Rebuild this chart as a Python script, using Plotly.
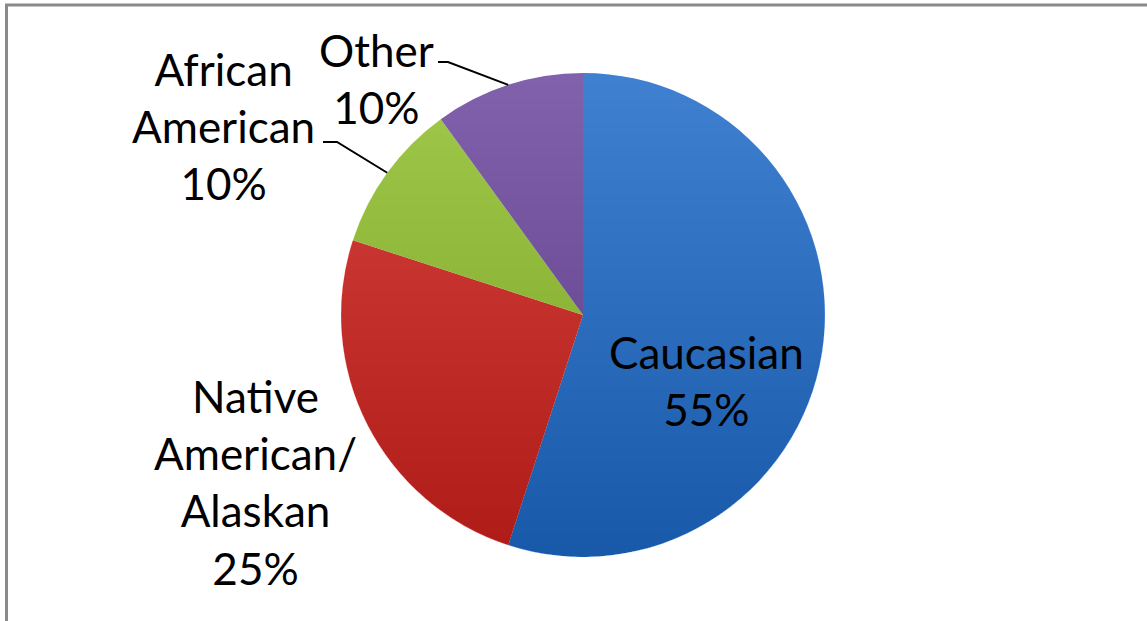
import numpy as np
import plotly.graph_objects as go

# ---- data ----
labels = ["Caucasian", "Native<br>American/<br>Alaskan", "African<br>American", "Other"]
values = [55, 25, 10, 10]
colors = ["#4080D0", "#D6433F", "#A0C94C", "#8161AB"]

W, H = 1147, 621
cx, cy, r = 583, 315, 242  # pie geometry in pixels


def px(x):
    return x / W


def py(y):
    return 1 - y / H


def P(x, y):
    return f"{px(x):.5f},{py(y):.5f}"


fig = go.Figure()
fig.add_trace(go.Pie(
    labels=[l.replace("<br>", " ") for l in labels],
    values=values,
    sort=False,
    direction="clockwise",
    rotation=0,
    marker=dict(colors=colors, line=dict(width=0)),
    textinfo="none",
    hoverinfo="label+percent",
    showlegend=False,
    domain=dict(x=[px(cx - r), px(cx + r)], y=[py(cy + r), py(cy - r)]),
))

shapes = []
# vertical gradient overlay (darker toward bottom), stacked translucent circle segments
N = 40
alpha = 1 - (0.80) ** (1 / N)
for k in range(1, N):
    yk = cy - r + 2 * r * k / N
    t0 = np.arcsin((yk - cy) / r)
    ts = np.linspace(t0, np.pi - t0, 90)
    pts = [P(cx + r * np.cos(t), cy + r * np.sin(t)) for t in ts]
    path = "M" + " L".join(pts) + " Z"
    shapes.append(dict(type="path", xref="paper", yref="paper", path=path,
                       fillcolor="#303030", opacity=alpha, line=dict(width=0), layer="above"))

# leader lines to mid-angle of small slices
total = sum(values)
cum = np.cumsum([0] + values[:-1])
mid_theta = [2 * np.pi * (c + v / 2) / total for c, v in zip(cum, values)]


def edge(i):
    t = mid_theta[i]
    return cx + r * np.sin(t), cy - r * np.cos(t)


leader_starts = {3: [(438, 62), (448, 62)], 2: [(323, 142), (337, 142)]}
for i, pts in leader_starts.items():
    (x0, y0), (x1, y1) = pts
    ex, ey = edge(i)
    path = "M" + P(x0, y0) + " L" + P(x1, y1) + " L" + P(ex, ey)
    shapes.append(dict(type="path", xref="paper", yref="paper", path=path,
                       line=dict(color="black", width=2)))

# chart border
shapes.append(dict(type="rect", xref="paper", yref="paper",
                   x0=px(6.5), y0=py(1200), x1=px(2000), y1=py(5),
                   line=dict(color="#8A8A8A", width=3), fillcolor="rgba(0,0,0,0)"))

pcts = [f"{round(100 * v / total)}%" for v in values]
label_pos = [(706, 380), (255, 482), (223, 126), (376, 78)]
annotations = []
for lab, pc, (x, y) in zip(labels, pcts, label_pos):
    annotations.append(dict(text=f"{lab}<br>{pc}", x=px(x), y=py(y),
                            xref="paper", yref="paper",
                            showarrow=False, xanchor="center", yanchor="middle", align="center",
                            font=dict(family="Lato, 'Open Sans', sans-serif", size=44, color="black")))

fig.update_layout(
    width=W, height=H,
    margin=dict(l=0, r=0, t=0, b=0),
    paper_bgcolor="white",
    plot_bgcolor="white",
    shapes=shapes,
    annotations=annotations,
)

fig.write_html("out.html", config={"displayModeBar": False},
               post_script="document.body.style.margin='0px';")
